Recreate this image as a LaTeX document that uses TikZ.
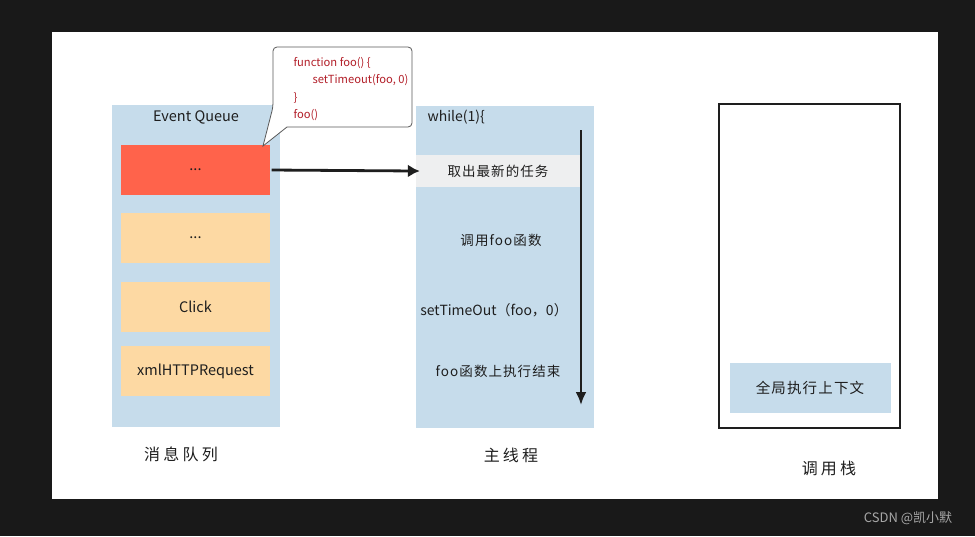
\documentclass[tikz,border=0pt]{standalone}
\usepackage{fontspec}
\setmainfont{Noto Sans CJK SC}
\newfontfamily\handfont[LetterSpace=8]{Noto Sans CJK SC}
\newfontfamily\wideface[LetterSpace=20]{Noto Sans CJK SC}
\usetikzlibrary{arrows.meta,positioning,calc}
\definecolor{backdrop}{HTML}{191919}
\definecolor{lane}{HTML}{C6DCEB}
\definecolor{hot}{HTML}{FF634B}
\definecolor{job}{HTML}{FDD9A3}
\definecolor{band}{HTML}{EEEFF0}
\definecolor{code}{HTML}{B3202A}
\definecolor{ink}{HTML}{1E1E1E}
\definecolor{mark}{HTML}{A8A8A8}
\tikzset{
  lanebox/.style={fill=lane, inner sep=0pt, minimum height=322pt},
  task/.style={fill=job, minimum width=149pt, minimum height=50pt, inner sep=0pt,
               text=ink, font=\fontsize{14.5}{16}\selectfont},
  stepline/.style={text=ink, font=\handfont\fontsize{13.5}{15}\selectfont},
  caption/.style={text=ink, font=\wideface\fontsize{16}{18}\selectfont},
  push/.style={-{Latex[length=12pt,width=13pt]}, line width=2.8pt, draw=ink},
  callout/.style={draw=black!65, fill=white, line width=0.8pt}
}
\begin{document}
\begin{tikzpicture}[x=1pt,y=-1pt]
        \fill[backdrop] (0,0) rectangle (975,536);
        \useasboundingbox (0,0) rectangle (975,536);
        \fill[white] (52,32) rectangle (938,499);
        % event queue
        \node[lanebox,minimum width=168pt] (queue) at (196,266) {};
        \node[text=ink,font=\fontsize{14.5}{16}\selectfont] (qtitle) at (196,117) {Event Queue};
        \node[task,fill=hot] (first) at (195.5,170) {...};
        \node[task] (second) at (195.5,238) {...};
        \node[task] (click) at (195.5,307) {Click};
        \node[task] (xhr) at (195.5,371) {xmlHTTPRequest};
        \node[caption] (qname) at (181,454) {消息队列};
        % callout with the code
        \draw[callout,rounded corners=4pt] (287,127) -- (412,127) -- (412,47) -- (273,47) -- (273,107)
          [sharp corners] -- (263,146) -- cycle;
        \node[anchor=west,align=left,text=code,font=\fontsize{11.2}{17.5}\selectfont] (snippet) at (290,89)
          {function foo() \{\\\hspace*{19pt}setTimeout(foo, 0)\\\}\\foo()};
        % main thread
        \node[lanebox,minimum width=178pt] (main) at (505,267) {};
        \node[anchor=west,text=ink,font=\fontsize{14}{16}\selectfont] (loop) at (424,117) {while(1)\{};
        \node[fill=band,minimum width=164pt,minimum height=32pt,inner sep=0pt,stepline] (pick) at (498,171)
          {取出最新的任务};
        \node[stepline] (call) at (501,240) {调用foo函数};
        \node[text=ink,font=\fontsize{14}{16}\selectfont] (timer) at (494,310) {setTimeOut（foo，0）};
        \node[stepline] (done) at (498,371) {foo函数上执行结束};
        \coordinate (looptop) at (581,130);
        \coordinate (loopend) at (581,405);
        \draw[push,-{Latex[length=13pt,width=11pt]}] (looptop) -- (loopend);
        \node[caption] (mname) at (511,455) {主线程};
        \draw[push,shorten <=1.5pt,shorten >=-4pt] (first.east) -- (pick.west);
        % call stack
        \node[draw=ink,line width=1.5pt,minimum width=181pt,minimum height=324pt,inner sep=0pt] (stack) at (809.5,266) {};
        \node[fill=lane,minimum width=161pt,minimum height=50pt,inner sep=0pt,text=ink,
              font=\handfont\fontsize{14.5}{16}\selectfont] (global) at (810,388) {全局执行上下文};
        \node[caption] (sname) at (829,468) {调用栈};
        \node[text=mark,font=\fontsize{13}{15}\selectfont] (credit) at (908,518) {CSDN @凯小默};
      \end{tikzpicture}
\end{document}
